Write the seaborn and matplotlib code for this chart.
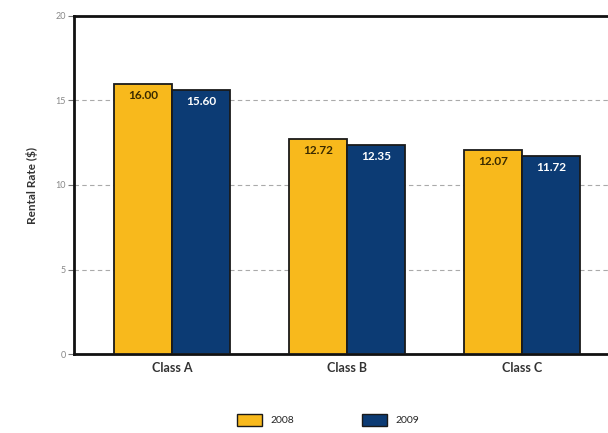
import matplotlib
matplotlib.use("Agg")
import matplotlib.pyplot as plt
import seaborn as sns
import pandas as pd
from matplotlib.patches import Patch

categories = ["Class A", "Class B", "Class C"]
years = ["2008", "2009"]
rates_2008 = [16.00, 12.72, 12.07]
rates_2009 = [15.60, 12.35, 11.72]
y_ticks = [0, 5, 10, 15, 20]

df = pd.DataFrame({
    "Class": categories * 2,
    "Year": [years[0]] * 3 + [years[1]] * 3,
    "Rate": rates_2008 + rates_2009,
})

sns.set_style("white")
plt.rcParams["font.family"] = ["Lato", "DejaVu Sans"]

colors = {"2008": "#F8B91C", "2009": "#0C3B74"}

fig = plt.figure(figsize=(6.08, 4.33), dpi=100)
ax = fig.add_axes([74/608, 79/433, 0.9, (354-16)/433])

sns.barplot(data=df, x="Class", y="Rate", hue="Year", palette=colors,
            width=0.66, edgecolor="#1a1a1a", linewidth=1.3, ax=ax,
            legend=False, zorder=3, saturation=1)

ax.set_ylim(0, 20)
ax.set_xlim(-0.56, 2.566)
ax.set_yticks(y_ticks)
ax.set_yticklabels([str(t) for t in y_ticks], fontsize=6.5, color="#888888")
ax.tick_params(axis="y", length=4, width=0.8, color="#777777", pad=2, direction="out", left=True)
ax.tick_params(axis="x", length=0, pad=6)
for lbl in ax.get_xticklabels():
    lbl.set_fontsize(9)
    lbl.set_fontweight("bold")
    lbl.set_color("#333333")

for t in [5, 10, 15]:
    ax.axhline(t, color="#aaaaaa", lw=0.8, ls=(0, (4, 3)), zorder=1)

ax.set_xlabel("")
ax.set_ylabel("Rental Rate ($)", fontsize=8.5, color="#333333", labelpad=12, fontweight="bold")

for side in ["left", "bottom", "top"]:
    ax.spines[side].set_visible(True)
    ax.spines[side].set_linewidth(2)
    ax.spines[side].set_color("#111111")
ax.spines["right"].set_visible(False)

for i, cont in enumerate(ax.containers):
    txtcol = "#3a2a00" if i == 0 else "white"
    for bar in cont:
        h = bar.get_height()
        ax.text(bar.get_x() + bar.get_width()/2, h - 0.35, f"{h:.2f}",
                ha="center", va="top", fontsize=8.5, fontweight="bold",
                color=txtcol, zorder=5)

handles = [Patch(facecolor=colors[y], edgecolor="#1a1a1a", linewidth=1.0) for y in years]
fig.legend(handles, years, loc="center", bbox_to_anchor=(328/608, 1 - 420/433),
           ncol=2, frameon=False, fontsize=7.5, handlelength=2.4, handleheight=1.3,
           columnspacing=6.5, handletextpad=0.8)

fig.savefig("out.png", dpi=100)
